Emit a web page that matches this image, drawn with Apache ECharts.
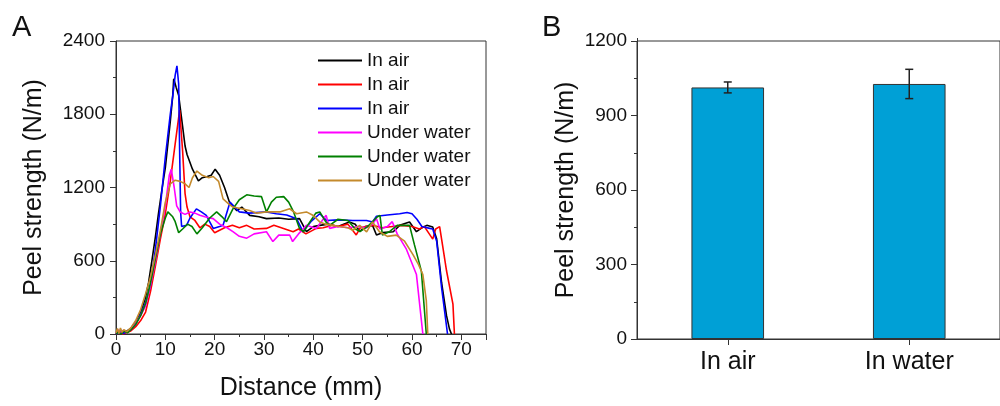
<!DOCTYPE html>
<html><head><meta charset="utf-8">
<script src="https://cdn.jsdelivr.net/npm/echarts@6/dist/echarts.min.js"></script>
<style>html,body{margin:0;padding:0;background:#fff}#c{width:1000px;height:406px}</style>
</head><body><div id="c"></div>
<script>
// ---------- Panel A data: peel curves [distance (mm), peel strength (N/m)] ----------
const airBlack = [[0,0],[0.6,25],[1.2,5],[2,20],[3,45],[4,100],[5,180],[5.9,285],[6.6,420],[7.3,608],[8,800],[8.6,985],[9.3,1180],[10,1362],[11,1740],[11.5,1950],[11.7,2090],[12.2,2020],[12.7,1955],[13.5,1700],[14,1540],[14.4,1470],[15.5,1350],[16.7,1255],[17.5,1280],[18.5,1290],[19.3,1300],[20.1,1350],[21,1300],[22,1200],[23,1080],[24.5,1010],[25.5,1040],[27.1,972],[29,960],[30.5,945],[33,950],[35,940],[37.2,945],[38.6,838],[40,880],[41.3,890],[43,900],[45,880],[47.3,918],[48.5,900],[49.4,838],[50.5,880],[52,890],[52.8,811],[54,830],[56.2,838],[57.5,890],[59.5,918],[60.9,838],[62,870],[63,890],[64.2,877],[65,780],[66,420],[67,150],[67.6,40],[68,0]];
const airRed = [[0,0],[0.7,20],[1.4,0],[2,10],[3,25],[4,60],[5,110],[6,180],[7,350],[8,560],[9,780],[10,985],[11,1250],[12,1560],[12.9,1834],[13.5,1500],[14,1150],[14.4,1040],[15,960],[16,930],[17,870],[18,900],[19,880],[20,830],[21,850],[22,870],[23.6,890],[25,870],[26.5,890],[28,860],[30.5,865],[32,890],[33.5,870],[35.9,838],[37,860],[38.5,820],[40.6,865],[42,870],[43.9,890],[45,880],[47,900],[48.7,811],[49.5,870],[50.7,880],[52,890],[54,870],[56,880],[58,890],[60,880],[61.5,860],[62.5,880],[63.5,820],[64.2,777],[64.8,860],[65.6,880],[66.3,700],[67,518],[68.3,245],[68.6,0]];
const airBlue = [[0,0],[0.5,15],[1,30],[1.5,5],[2,15],[3,35],[4,80],[5,160],[6,260],[7,400],[8,700],[9,1050],[10,1450],[11,1800],[11.5,1950],[12,2120],[12.35,2197],[12.7,2050],[12.9,1500],[13.1,1000],[13.3,880],[14.3,890],[15,950],[16.3,1025],[17.3,1000],[18.3,972],[19.7,865],[21,880],[21.7,890],[23.1,1080],[25,1000],[27,990],[30.5,1000],[32.5,985],[34.6,975],[36.6,945],[37.9,838],[39.5,920],[41.3,985],[42.7,930],[45,935],[48,930],[50.8,930],[52,918],[52.8,965],[55,975],[57.5,985],[59,995],[60,985],[61,940],[62,880],[63.6,865],[64.2,860],[65,760],[66,380],[67.2,0]];
const waterMagenta = [[0,0],[0.4,35],[0.9,10],[1.5,30],[2.2,10],[3,40],[4,90],[5,150],[6,230],[7,400],[8,600],[9,820],[10,1050],[10.8,1300],[11.2,1350],[11.8,1200],[12.3,1050],[13,1000],[14,980],[15,1000],[16,990],[17,972],[18,960],[19.7,945],[21,900],[22.5,870],[23.7,838],[25,800],[26.5,785],[28,820],[30.5,838],[31.8,757],[33,810],[35.2,811],[35.8,757],[37,820],[38.6,890],[40.6,865],[42.6,972],[43.3,865],[45,880],[47,870],[49,880],[50.7,870],[52,900],[52.8,945],[53.5,860],[55,880],[56,920],[57,820],[58.8,700],[60.9,487],[62.2,0]];
const waterGreen = [[0,0],[0.5,20],[1,0],[1.6,25],[2.3,10],[3,35],[4,80],[5,150],[6,250],[7,420],[8,620],[9,820],[10,950],[10.5,1000],[11.5,960],[12,920],[12.7,830],[13.5,860],[14.5,900],[15.4,880],[16.4,820],[17.5,870],[19,950],[20.4,1000],[21.5,960],[22.4,920],[23.7,1025],[25,1100],[26.5,1140],[28,1130],[29.5,1125],[30.5,1000],[31.5,1080],[32.5,1120],[34,1125],[35,1080],[36,1000],[37.2,865],[38,838],[39,900],[40.5,990],[41.3,1000],[42.5,920],[43.3,890],[45,940],[47,930],[48.5,860],[49.5,840],[51,880],[53,960],[53.5,972],[54,811],[55.5,840],[57,890],[59.5,890],[60.5,730],[61.9,515],[62.9,0]];
const waterOrange = [[0,10],[0.3,45],[0.6,5],[0.9,50],[1.2,15],[1.6,35],[2.2,20],[3,50],[4,110],[5,200],[6,330],[7,470],[8,650],[9,850],[10,1080],[11,1230],[12,1260],[13,1250],[14,1230],[14.8,1200],[15.5,1280],[16.4,1335],[17.5,1300],[18.8,1280],[19.7,1290],[20.8,1250],[21.7,1107],[23,1060],[23.7,1040],[25,1030],[27.1,1012],[28.5,990],[30.5,1000],[33.2,1000],[35.2,1026],[36.6,985],[38.6,1000],[40,970],[41.3,918],[42.5,900],[44,890],[45.3,880],[47,870],[48,850],[49.4,890],[50.8,836],[52,918],[53.4,838],[55,800],[56.8,810],[58.5,760],[60.2,650],[61.3,570],[62.2,487],[62.9,273],[63.2,0]];

const curveNames = ['In air #1','In air #2','In air #3','Under water #1','Under water #2','Under water #3'];
const curveData = [airBlack, airRed, airBlue, waterMagenta, waterGreen, waterOrange];
const curveColors = ['#000000','#FF0000','#0000FF','#FF00FF','#008000','#C48A2C'];

// ---------- Panel B data ----------
const barCategories = ['In air','In water'];
const barMeans = [1013, 1027];
const barErrors = [22, 59];

// ---------- Tick settings ----------
const xTicksA = {min:0, max:75, interval:10};
const yTicksA = {min:0, max:2400, interval:600};
const yTicksB = {min:0, max:1200, interval:300};

const FONT = '"Liberation Sans", Arial, Helvetica, sans-serif';
const AX = '#333';
const TXT = '#111';
const plain = v => String(v);

const chart = echarts.init(document.getElementById('c'), null, {renderer:'canvas'});

const lineSeries = curveNames.map((n,i)=>({
  name:n, type:'line', xAxisIndex:0, yAxisIndex:0,
  data: curveData[i], symbol:'none', showSymbol:false,
  lineStyle:{color:curveColors[i], width:1.6}, itemStyle:{color:curveColors[i]},
  z: 2, animation:false
}));

const option = {
  animation:false,
  backgroundColor:'#fff',
  textStyle:{fontFamily:FONT},
  graphic:[
    {type:'text', left:12, top:13, style:{text:'A', font:'29px '+FONT, fill:TXT}},
    {type:'text', left:542, top:13, style:{text:'B', font:'29px '+FONT, fill:TXT}}
  ],
  legend:{
    orient:'vertical', left:318, top:51, padding:0, itemWidth:44, itemHeight:2, itemGap:5,
    icon:'rect',
    data: curveNames, formatter: n => n.replace(/ #\d$/, ''),
    textStyle:{fontSize:19, color:TXT, fontFamily:FONT}
  },
  grid:[
    {left:116, top:41, width:370, height:296, show:true, borderColor:AX, borderWidth:1, backgroundColor:'transparent'},
    {left:637, top:41, width:370, height:298, show:true, borderColor:AX, borderWidth:1, backgroundColor:'transparent'}
  ],
  xAxis:[
    {gridIndex:0, type:'value', min:xTicksA.min, max:xTicksA.max, interval:xTicksA.interval,
     axisLine:{show:true, onZero:false, lineStyle:{color:AX, width:1}},
     axisTick:{show:true, inside:false, length:6, lineStyle:{color:AX}},
     minorTick:{show:true, splitNumber:2, length:3, lineStyle:{color:AX}},
     splitLine:{show:false}, minorSplitLine:{show:false},
     axisLabel:{fontSize:19, color:TXT, margin:6, showMaxLabel:false, fontFamily:FONT, formatter:plain},
     name:'Distance (mm)', nameLocation:'middle', nameGap:42,
     nameTextStyle:{fontSize:25, color:TXT, fontFamily:FONT}},
    {gridIndex:1, type:'category', data:barCategories, boundaryGap:true,
     axisLine:{show:true, lineStyle:{color:AX, width:1}},
     axisTick:{show:true, alignWithLabel:true, length:6, lineStyle:{color:AX}},
     axisLabel:{fontSize:25, color:TXT, margin:11, fontFamily:FONT},
     splitLine:{show:false}},
    {gridIndex:1, type:'category', data:barCategories, boundaryGap:true,
     axisLine:{show:false},
     axisTick:{show:true, alignWithLabel:false, length:3, interval:(i)=> i===1, lineStyle:{color:AX}},
     axisLabel:{show:false}, splitLine:{show:false}}
  ],
  yAxis:[
    {gridIndex:0, type:'value', min:yTicksA.min, max:yTicksA.max, interval:yTicksA.interval,
     axisLine:{show:true, onZero:false, lineStyle:{color:AX, width:1}},
     axisTick:{show:true, inside:false, length:6, lineStyle:{color:AX}},
     minorTick:{show:true, splitNumber:2, length:3, lineStyle:{color:AX}},
     splitLine:{show:false}, minorSplitLine:{show:false},
     axisLabel:{fontSize:19, color:TXT, margin:11, fontFamily:FONT, formatter:plain},
     name:'Peel strength (N/m)', nameLocation:'middle', nameGap:69,
     nameTextStyle:{fontSize:25, color:TXT, fontFamily:FONT}},
    {gridIndex:1, type:'value', min:yTicksB.min, max:yTicksB.max, interval:yTicksB.interval,
     axisLine:{show:true, onZero:false, lineStyle:{color:AX, width:1}},
     axisTick:{show:true, inside:false, length:6, lineStyle:{color:AX}},
     minorTick:{show:true, splitNumber:2, length:3, lineStyle:{color:AX}},
     splitLine:{show:false}, minorSplitLine:{show:false},
     axisLabel:{fontSize:19, color:TXT, margin:10, fontFamily:FONT, formatter:plain},
     name:'Peel strength (N/m)', nameLocation:'middle', nameGap:58,
     nameTextStyle:{fontSize:25, color:TXT, fontFamily:FONT}}
  ],
  series: lineSeries.concat([
    {type:'bar', xAxisIndex:1, yAxisIndex:1, data:barMeans, barWidth:'40%',
     itemStyle:{color:'#00A0D6', borderColor:'#333', borderWidth:1}, z:2},
    {type:'custom', xAxisIndex:1, yAxisIndex:1, z:5,
     data: barCategories.map((c,i)=>[i, barMeans[i], barErrors[i]]),
     encode:{x:0, y:1},
     renderItem:(params, api)=>{
       const x = api.value(0), m = api.value(1), e = api.value(2);
       const top = api.coord([x, m+e]), bot = api.coord([x, m-e]);
       const hw = 4;
       const st = {stroke:'#222', lineWidth:1.5, fill:null};
       return {type:'group', children:[
         {type:'line', shape:{x1:top[0], y1:top[1], x2:bot[0], y2:bot[1]}, style:st},
         {type:'line', shape:{x1:top[0]-hw, y1:top[1], x2:top[0]+hw, y2:top[1]}, style:st},
         {type:'line', shape:{x1:bot[0]-hw, y1:bot[1], x2:bot[0]+hw, y2:bot[1]}, style:st}
       ]};
     }}
  ])
};
chart.setOption(option);
</script></body></html>
